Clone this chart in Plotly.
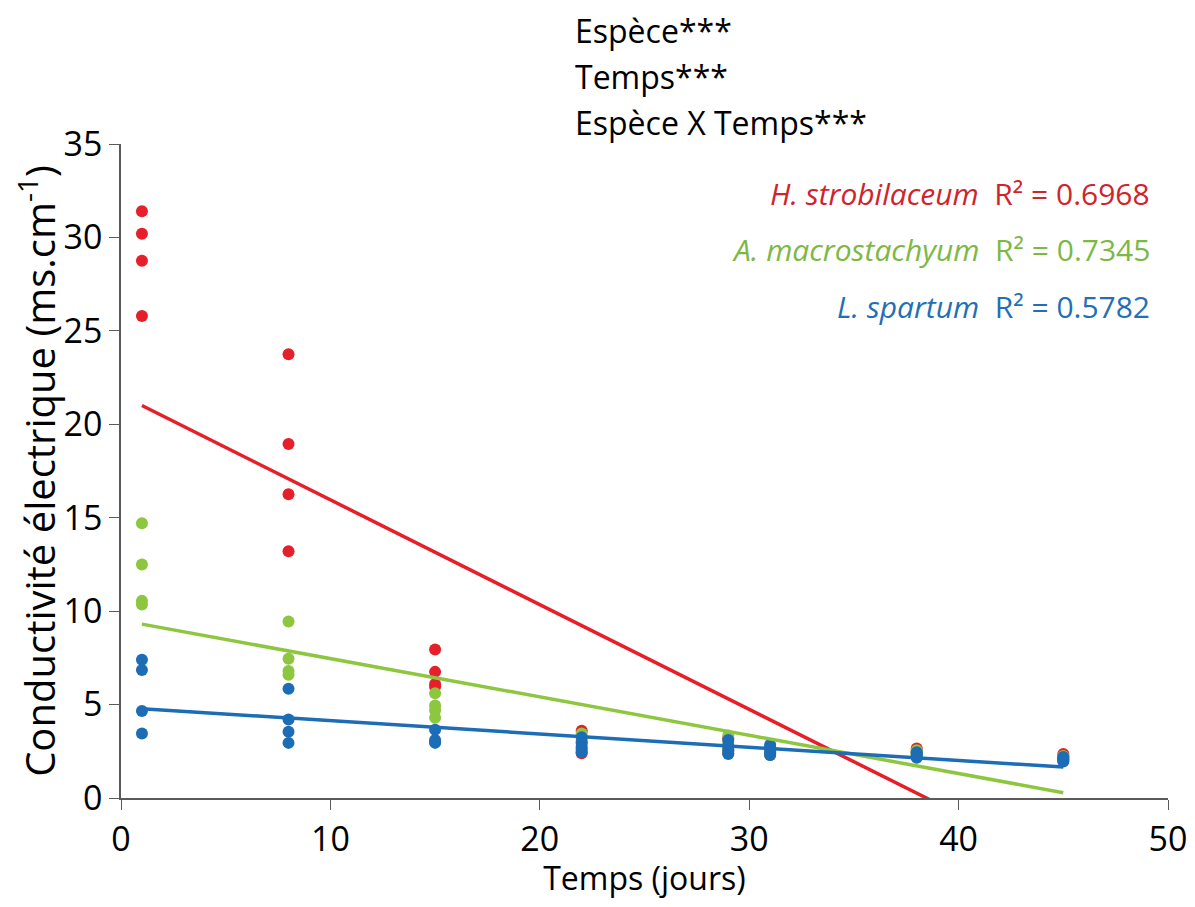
import numpy as np
import plotly.graph_objects as go

# sampling days (jours)
days = [1, 8, 15, 22, 29, 31, 38, 45]

# conductivity readings, 4 replicates per day (ms.cm-1)
h_strobilaceum = [
    [31.4, 30.2, 28.75, 25.8],
    [23.75, 18.95, 16.25, 13.2],
    [7.95, 6.75, 6.1, 5.95],
    [3.6, 3.0, 2.6, 2.4],
    [3.2, 2.8, 2.6, 2.4],
    [2.7, 2.5, 2.4, 2.3],
    [2.65, 2.5, 2.4, 2.3],
    [2.35, 2.25, 2.15, 2.05],
]
a_macrostachyum = [
    [14.7, 12.5, 10.55, 10.35],
    [9.45, 7.45, 6.8, 6.6],
    [5.6, 4.95, 4.7, 4.3],
    [3.45, 3.1, 2.8, 2.5],
    [3.35, 3.0, 2.7, 2.5],
    [2.7, 2.55, 2.4, 2.3],
    [2.55, 2.45, 2.35, 2.25],
    [2.25, 2.15, 2.05, 2.0],
]
l_spartum = [
    [7.4, 6.85, 4.65, 3.45],
    [5.85, 4.2, 3.55, 2.95],
    [3.65, 3.1, 3.0, 2.95],
    [3.25, 2.95, 2.7, 2.45],
    [3.1, 2.8, 2.55, 2.35],
    [2.85, 2.65, 2.45, 2.3],
    [2.45, 2.35, 2.25, 2.15],
    [2.2, 2.1, 2.05, 1.95],
]

species = ["H. strobilaceum", "A. macrostachyum", "L. spartum"]
r2_labels = ["0.6968", "0.7345", "0.5782"]
stats_lines = ["Espèce***", "Temps***", "Espèce X Temps***"]

point_colors = ["#E5202A", "#8DC63F", "#1C6DB6"]
text_colors = ["#D1232B", "#7DB843", "#236EB5"]

fig = go.Figure()

series = [h_strobilaceum, a_macrostachyum, l_spartum]
for name, vals, col in zip(species, series, point_colors):
    xs = [d for d, reps in zip(days, vals) for _ in reps]
    ys = [v for reps in vals for v in reps]
    fig.add_trace(go.Scatter(x=xs, y=ys, mode="markers", name=name,
                             marker=dict(color=col, size=12), showlegend=False))

# linear trendlines (least squares, like the spreadsheet)
for name, vals, col in zip(species, series, point_colors):
    xs = [d for d, reps in zip(days, vals) for _ in reps]
    ys = [v for reps in vals for v in reps]
    slope, icpt = np.polyfit(xs, ys, 1)
    xl = np.array([min(days), max(days)])
    fig.add_trace(go.Scatter(x=xl, y=icpt + slope * xl, mode="lines",
                             line=dict(color=col, width=3.5), showlegend=False,
                             hoverinfo="skip"))

font_fam = "Open Sans, Noto Sans, sans-serif"

# stats text at top
for i, txt in enumerate(stats_lines):
    fig.add_annotation(x=0.4317, y=1.174 - i * 0.0705, xref="paper", yref="paper",
                       text=txt, showarrow=False, xanchor="left", yanchor="middle",
                       font=dict(size=32, color="black", family=font_fam))

# species / R2 labels
for i, (sp, r2, col) in enumerate(zip(species, r2_labels, text_colors)):
    fig.add_annotation(x=0.9847, y=0.925 - i * 0.087, xref="paper", yref="paper",
                       text="<i>" + sp + "</i>  R² = " + r2, showarrow=False,
                       xanchor="right", yanchor="middle",
                       font=dict(size=30, color=col, family=font_fam))

axis_style = dict(showline=True, linecolor="#5a5a5a", linewidth=1.5, ticks="outside",
                  ticklen=10, tickcolor="#5a5a5a", showgrid=False, zeroline=False,
                  ticklabeloverflow="allow",
                  tickfont=dict(size=34, color="black", family=font_fam))

fig.update_xaxes(range=[0, 50], dtick=10,
                 title=dict(text="Temps (jours)", font=dict(size=32, color="black", family=font_fam),
                            standoff=2),
                 **axis_style)
fig.update_yaxes(range=[0, 35], dtick=5,
                 title=dict(text="Conductivité électrique (ms.cm<sup>-1</sup>)",
                            font=dict(size=40, color="black", family=font_fam), standoff=4),
                 **axis_style)

# page body adds an 8px margin, so the figure is sized and offset to suit
fig.update_layout(width=1187, height=891, plot_bgcolor="white", paper_bgcolor="white",
                  margin=dict(l=113, r=27, t=136, b=101, autoexpand=False),
                  font=dict(family=font_fam))

fig.write_html("out.html")
